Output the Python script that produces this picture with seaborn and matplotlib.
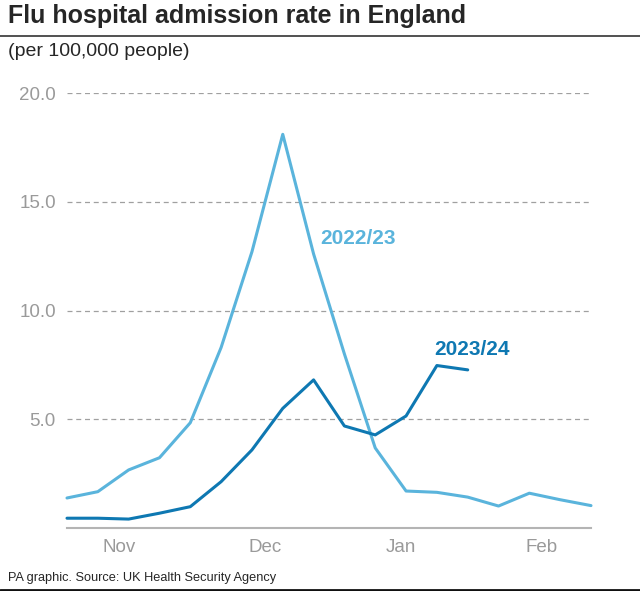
import pandas as pd
import matplotlib.pyplot as plt
import seaborn as sns

# weekly admission rates per 100,000
week_2223 = list(range(18))
rate_2223 = [1.38, 1.67, 2.67, 3.23, 4.84, 8.3, 12.7, 18.1, 12.6,
             8.0, 3.68, 1.70, 1.64, 1.42, 1.01, 1.60, 1.30, 1.03]
week_2324 = list(range(14))
rate_2324 = [0.45, 0.45, 0.41, 0.68, 0.98, 2.13, 3.59, 5.5, 6.81,
             4.69, 4.28, 5.15, 7.47, 7.27]

month_pos = [1.69, 6.43, 10.84, 15.39]
month_labels = ['Nov', 'Dec', 'Jan', 'Feb']
y_ticks = [5, 10, 15, 20]

light = '#5ab4dc'
dark = '#0e78b2'

df = pd.concat([
    pd.DataFrame({'week': week_2223, 'rate': rate_2223, 'season': '2022/23'}),
    pd.DataFrame({'week': week_2324, 'rate': rate_2324, 'season': '2023/24'}),
])

sns.set_theme(style="white")
plt.rcParams['font.family'] = ['Liberation Sans', 'DejaVu Sans']

fig = plt.figure(figsize=(6.4, 5.91), dpi=100)
ax = fig.add_axes([67 / 640, 63 / 591, 524 / 640, 435 / 591])

sns.lineplot(data=df, x='week', y='rate', hue='season',
             palette={'2022/23': light, '2023/24': dark},
             linewidth=2.2, legend=False, ax=ax)
for ln in ax.lines:
    ln.set_clip_on(False)

ax.set_xlim(0, 17)
ax.set_ylim(0, 20)
ax.set_yticks(y_ticks)
ax.set_yticklabels([f"{v:.1f}" for v in y_ticks], color='#9a9a9a', fontsize=13.5)
ax.set_xticks(month_pos)
ax.set_xticklabels(month_labels, color='#9a9a9a', fontsize=13.5)
ax.tick_params(axis='both', length=0)
ax.tick_params(axis='y', pad=8)
ax.tick_params(axis='x', pad=8)
for yv in y_ticks:
    ax.axhline(yv, color='#a0a0a0', lw=0.9, ls=(0, (4, 3)), zorder=0)
for s in ['top', 'right', 'left']:
    ax.spines[s].set_visible(False)
ax.spines['bottom'].set_color('#b4b4b4')
ax.spines['bottom'].set_linewidth(1.5)
ax.set_xlabel('')
ax.set_ylabel('')

ax.text(8.2, 13.3, '2022/23', color=light, fontsize=15, fontweight='bold', va='center')
ax.text(11.9, 8.2, '2023/24', color=dark, fontsize=15, fontweight='bold', va='center')

fig.text(8 / 640, 1 - 16 / 591, 'Flu hospital admission rate in England',
         fontsize=18, fontweight='bold', va='center', ha='left')
fig.add_artist(plt.Line2D([0, 1], [1 - 36 / 591] * 2, color='#333333', lw=1.2))
fig.text(8 / 640, 1 - 52 / 591, '(per 100,000 people)',
         fontsize=14, va='center', ha='left')
fig.text(8 / 640, 1 - 578 / 591, 'PA graphic. Source: UK Health Security Agency',
         fontsize=9.2, va='center', ha='left')
fig.add_artist(plt.Line2D([0, 1], [1 - 590 / 591] * 2, color='#111111', lw=2))

plt.savefig('out.png', dpi=100)
